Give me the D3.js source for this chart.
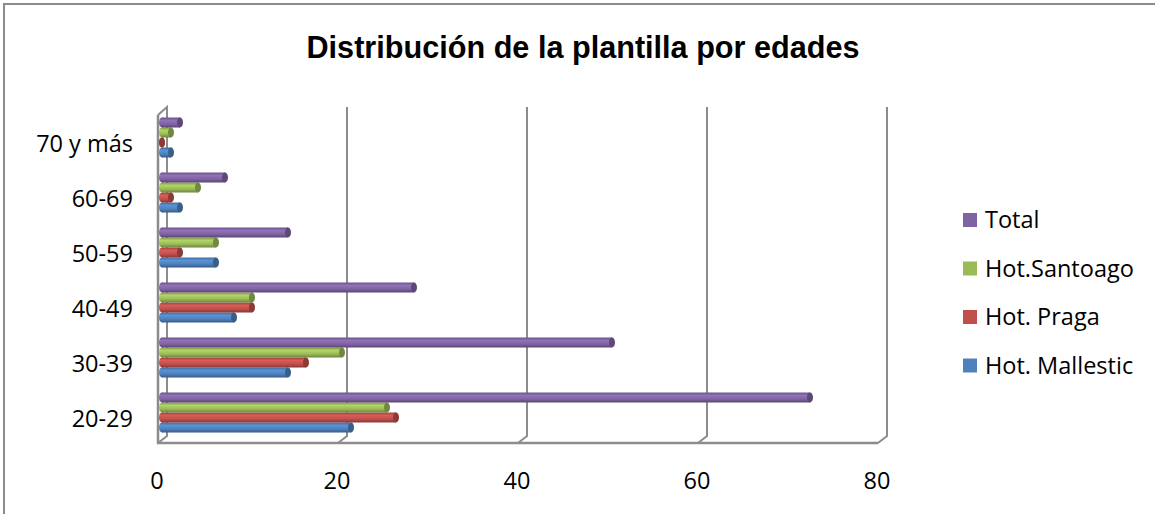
<!DOCTYPE html>
<html>
<head>
<meta charset="utf-8">
<script src="https://cdn.jsdelivr.net/npm/d3@7"></script>
<style>
  body { margin: 0; background: #fff; }
  svg { display: block; }
</style>
</head>
<body>
<svg width="1155" height="514"></svg>
<script>
// data
var categories = ["20-29", "30-39", "40-49", "50-59", "60-69", "70 y más"];
var seriesNames = ["Hot. Mallestic", "Hot. Praga", "Hot.Santoago", "Total"];
var mallestic = [21, 14, 8, 6, 2, 1];
var praga = [26, 16, 10, 2, 1, 0];
var santoago = [25, 20, 10, 6, 4, 1];
var total = [72, 50, 28, 14, 7, 2];
var colors = ["#4F81BD", "#C0504D", "#9BBB59", "#8064A2"];
var xTicks = [0, 20, 40, 60, 80];

var values = [mallestic, praga, santoago, total];

var svg = d3.select("svg");
var font = "'Open Sans', Lato, sans-serif";
var fs = 23.5;
var grid = "#8c8c8c";

// outer frame
svg.append("path")
  .attr("d", "M4,520 L4,4 L1160,4")
  .attr("fill", "none").attr("stroke", grid).attr("stroke-width", 2);

// title
svg.append("text")
  .attr("x", 583).attr("y", 58)
  .attr("text-anchor", "middle")
  .attr("font-family", "'Liberation Sans Narrow', 'Liberation Sans', Arial, sans-serif")
  .attr("font-weight", "bold")
  .attr("font-size", 32)
  .attr("textLength", 553).attr("lengthAdjust", "spacingAndGlyphs")
  .text("Distribución de la plantilla por edades");

// scales (front plane), depth offset for the back wall
var dx = 9, dy = -7;
var x = d3.scaleLinear().domain([0, 80]).range([158, 878]);
var y = d3.scaleBand().domain(categories).range([443, 113]);
var inner = d3.scaleBand().domain(d3.range(4)).range([20, -20]);

var yTop = 113, yBot = 443;

// back wall gridlines + floor
xTicks.forEach(function (t) {
  var xb = x(t) + dx;
  if (t === 0) {
    svg.append("path")
      .attr("d", "M" + x(t) + "," + (yTop + 2) + " L" + xb + "," + (yTop + dy + 1) +
        " L" + xb + "," + (yBot + dy) + " L" + x(t) + "," + yBot)
      .attr("fill", "none").attr("stroke", grid).attr("stroke-width", 2);
  } else {
    svg.append("path")
      .attr("d", "M" + xb + "," + (yTop + dy + 1) + " L" + xb + "," + (yBot + dy) + " L" + x(t) + "," + yBot)
      .attr("fill", "none").attr("stroke", grid).attr("stroke-width", 2);
  }
});
// left front edge and floor front edge
svg.append("path")
  .attr("d", "M" + x(0) + "," + (yTop + 2) + " L" + x(0) + "," + yBot + " L" + x(80) + "," + yBot)
  .attr("fill", "none").attr("stroke", grid).attr("stroke-width", 2.5);

// cylinder gradients
var defs = svg.append("defs");
colors.forEach(function (c, i) {
  var base = d3.color(c);
  var g = defs.append("linearGradient").attr("id", "cyl" + i)
    .attr("x1", 0).attr("y1", 0).attr("x2", 0).attr("y2", 1);
  g.append("stop").attr("offset", "0%").attr("stop-color", base.darker(0.5));
  g.append("stop").attr("offset", "30%").attr("stop-color", base.brighter(0.35));
  g.append("stop").attr("offset", "65%").attr("stop-color", base);
  g.append("stop").attr("offset", "100%").attr("stop-color", base.darker(1));
});

// bars
var barOff = 4, capR = 3;
categories.forEach(function (cat, ci) {
  var cy = y(cat) + y.bandwidth() / 2 - 3;
  values.forEach(function (vals, si) {
    var v = vals[ci];
    var by = cy + inner(si);
    var bh = inner.bandwidth();
    var x0 = x(0) + barOff, x1 = x(v) + barOff;
    var grp = svg.append("g");
    grp.append("ellipse")
      .attr("cx", x0).attr("cy", by + bh / 2).attr("rx", capR).attr("ry", bh / 2)
      .attr("fill", "url(#cyl" + si + ")");
    grp.append("rect")
      .attr("x", x0).attr("y", by).attr("width", Math.max(0, x1 - x0)).attr("height", bh)
      .attr("fill", "url(#cyl" + si + ")");
    grp.append("ellipse")
      .attr("cx", x1).attr("cy", by + bh / 2).attr("rx", capR).attr("ry", bh / 2)
      .attr("fill", d3.color(colors[si]).darker(0.9));
  });
});

// category labels
svg.selectAll(".cat").data(categories).enter().append("text")
  .attr("x", 133)
  .attr("y", function (d) { return y(d) + y.bandwidth() / 2 + 3; })
  .attr("dy", "0.35em")
  .attr("text-anchor", "end")
  .attr("font-family", font).attr("font-size", fs)
  .text(function (d) { return d; });

// value axis labels
svg.selectAll(".tick").data(xTicks).enter().append("text")
  .attr("x", function (d) { return x(d) - 1; })
  .attr("y", 481)
  .attr("dy", "0.35em")
  .attr("text-anchor", "middle")
  .attr("font-family", font).attr("font-size", fs)
  .text(function (d) { return d; });

// legend, reversed order
var legendOrder = [3, 2, 1, 0];
legendOrder.forEach(function (si, k) {
  var ly = 220 + k * 48.5;
  svg.append("rect")
    .attr("x", 963).attr("y", ly - 7).attr("width", 14).attr("height", 14)
    .attr("fill", colors[si]);
  svg.append("text")
    .attr("x", 985).attr("y", ly)
    .attr("dy", "0.35em")
    .attr("font-family", font).attr("font-size", fs)
    .text(seriesNames[si]);
});
</script>
</body>
</html>
